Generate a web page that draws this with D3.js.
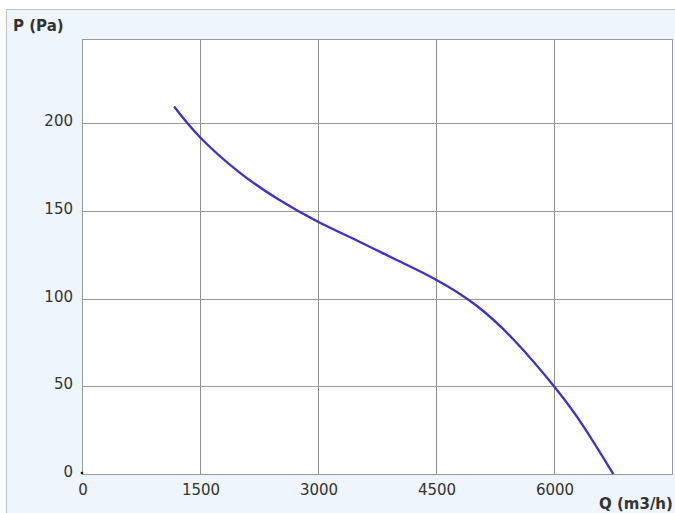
<!DOCTYPE html>
<html>
<head>
<meta charset="utf-8">
<script src="https://cdn.jsdelivr.net/npm/d3@7/dist/d3.min.js"></script>
<style>
body { margin: 0; background: #fff; }
svg text { font-family: "DejaVu Sans", Verdana, sans-serif; fill: #333; }
</style>
</head>
<body>
<svg id="chart" width="675" height="513"></svg>
<script>
// fan curve
var flow = [1170, 1500, 2000, 2500, 3000, 3500, 4000, 4500, 5000, 5500, 6000, 6370, 6754];
var pressure = [209.5, 192, 172, 156.5, 143.8, 133, 122, 110.8, 96.5, 76, 50, 27.5, 0];

var xTicks = [0, 1500, 3000, 4500, 6000, 7500];
var yTicks = [0, 50, 100, 150, 200];

var svg = d3.select("#chart");

// outer panel
svg.append("rect").attr("x", 6.5).attr("y", 9.5).attr("width", 700).attr("height", 600)
	.attr("fill", "#eef5fc").attr("stroke", "#b9c3cc");

var margin = {top: 39, left: 82},
	width = 590,
	height = 435;

var x = d3.scaleLinear().domain([0, 7500]).range([margin.left, margin.left + width]);
var y = d3.scaleLinear().domain([0, 248]).range([margin.top + height, margin.top]);

svg.append("rect").attr("x", margin.left + 0.5).attr("y", margin.top + 0.5)
	.attr("width", width).attr("height", height).attr("fill", "#fff");

// grid
svg.append("g").selectAll("line").data(xTicks).enter().append("line")
	.attr("x1", function(d){ return Math.round(x(d)) + 0.5; })
	.attr("x2", function(d){ return Math.round(x(d)) + 0.5; })
	.attr("y1", margin.top).attr("y2", margin.top + height)
	.attr("stroke", "#8f8f8f");
svg.append("g").selectAll("line").data(yTicks).enter().append("line")
	.attr("y1", function(d){ return Math.round(y(d)) + 0.5; })
	.attr("y2", function(d){ return Math.round(y(d)) + 0.5; })
	.attr("x1", margin.left).attr("x2", margin.left + width)
	.attr("stroke", "#999");

svg.append("rect").attr("x", margin.left + 0.5).attr("y", margin.top + 0.5)
	.attr("width", width).attr("height", height).attr("fill", "none").attr("stroke", "#999");

// tick labels
svg.append("g").selectAll("text").data(xTicks.slice(0, 5)).enter().append("text")
	.attr("x", function(d){ return x(d) + 1; })
	.attr("y", 495)
	.attr("text-anchor", "middle")
	.attr("font-size", 15)
	.text(function(d){ return d; });
svg.append("g").selectAll("text").data(yTicks).enter().append("text")
	.attr("x", 73)
	.attr("y", function(d){ return y(d) + 3; })
	.attr("text-anchor", "end")
	.attr("font-size", 15)
	.text(function(d){ return d; });

svg.append("text").attr("x", 13).attr("y", 31).attr("font-size", 15).attr("font-weight", "bold").text("P (Pa)");
svg.append("text").attr("x", 599).attr("y", 509).attr("font-size", 15).attr("font-weight", "bold").text("Q (m3/h)");

// origin dot
svg.append("circle").attr("cx", x(0)).attr("cy", y(0) - 1).attr("r", 1.3).attr("fill", "#111");

// curve
var pts = d3.zip(flow, pressure);
var line = d3.line()
	.x(function(d){ return x(d[0]); })
	.y(function(d){ return y(d[1]); })
	.curve(d3.curveNatural);

svg.append("path").datum(pts).attr("d", line)
	.attr("fill", "none").attr("stroke", "#3a32c9").attr("stroke-width", 2.3);
</script>
</body>
</html>
